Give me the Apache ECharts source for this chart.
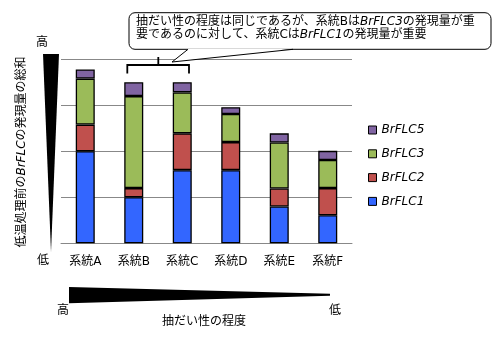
<!DOCTYPE html>
<html><head><meta charset="utf-8">
<script src="https://cdn.jsdelivr.net/npm/echarts@6/dist/echarts.min.js"></script>
<style>html,body{margin:0;padding:0;background:#fff;}#c{width:500px;height:346px;}</style>
</head><body><div id="c"></div>
<script>
var categories = ['系統A','系統B','系統C','系統D','系統E','系統F'];
var flc1 = [2.0, 1.0, 1.59, 1.59, 0.8, 0.61];
var flc2 = [0.58, 0.2, 0.8, 0.61, 0.39, 0.59];
var flc3 = [1.0, 2.0, 0.89, 0.61, 1.0, 0.61];
var flc5 = [0.2, 0.3, 0.22, 0.15, 0.2, 0.2];
var seriesNames = ['BrFLC1','BrFLC2','BrFLC3','BrFLC5'];
var legendOrder = ['BrFLC5','BrFLC3','BrFLC2','BrFLC1'];
var colors = ['#3366ff','#c0504d','#9bbb59','#8064a2'];
var FONT = "'DejaVu Sans','Noto Sans CJK JP',sans-serif";

var chart = echarts.init(document.getElementById('c'), null, {renderer:'canvas'});
var values = [flc1, flc2, flc3, flc5];
var series = seriesNames.map(function(n, i){
  return {
    name: n, type: 'bar', stack: 'total', barWidth: 19,
    data: values[i],
    itemStyle: {color: colors[i], borderColor: '#000', borderWidth: 1.3}
  };
});

var rich = {
  n: {fontFamily: FONT, fontSize: 12, fill: '#000'},
  i: {fontFamily: FONT, fontSize: 12, fill: '#000', fontStyle: 'italic'}
};
function t(x, y, s){
  return {type: 'text', z: 100, x: x, y: y, style: {text: s, fontFamily: FONT, fontSize: 12, fill: '#000', align: 'center', verticalAlign: 'middle'}};
}

chart.setOption({
  animation: false,
  textStyle: {fontFamily: FONT},
  grid: {left: 61, right: 148, top: 59.3, bottom: 102.7},
  legend: {
    data: legendOrder, orient: 'vertical', left: 363, top: 119, icon: 'rect',
    itemWidth: 8, itemHeight: 8, itemGap: 11.8,
    textStyle: {fontFamily: FONT, fontSize: 12, fontStyle: 'italic', color: '#000'},
    itemStyle: {borderColor: '#000', borderWidth: 1}
  },
  xAxis: {
    type: 'category', data: categories,
    axisLine: {lineStyle: {color: '#888', width: 1}},
    axisTick: {lineStyle: {color: '#888'}, length: 4},
    axisLabel: {color: '#000', fontSize: 12, fontFamily: FONT, margin: 13}
  },
  yAxis: {
    type: 'value', min: 0, max: 4, interval: 1,
    axisLine: {show: false}, axisTick: {show: false}, axisLabel: {show: false},
    splitLine: {lineStyle: {color: '#888', width: 1}}
  },
  series: series,
  graphic: [
    {type: 'polygon', z: 100, shape: {points: [[43,54],[59,54],[51,252]]}, style: {fill: '#000'}},
    t(42, 43, '高'),
    t(43, 261, '低'),
    {type: 'text', z: 100, x: 22, y: 152, rotation: Math.PI/2,
      style: {text: '{n|低温処理前の}{i|BrFLC}{n|の発現量の総和}', rich: rich, align: 'center', verticalAlign: 'middle'}},
    {type: 'polygon', z: 100, shape: {points: [[69,287],[330,293.8],[330,295.8],[69,303.3]]}, style: {fill: '#000'}},
    t(63, 311, '高'),
    t(335, 311, '低'),
    t(204, 322, '抽だい性の程度'),
    // brace
    {type: 'polyline', z: 100, shape: {points: [[127.3,73.5],[127.3,65],[189,65],[189,73.5]]},
      style: {stroke: '#000', lineWidth: 1.8, fill: null}},
    {type: 'line', z: 100, shape: {x1: 158.3, y1: 57, x2: 158.3, y2: 65}, style: {stroke: '#000', lineWidth: 1.8}},
    // callout
    {type: 'rect', z: 100, shape: {x: 129, y: 12.7, width: 362, height: 36.6, r: 6},
      style: {stroke: '#000', lineWidth: 1, fill: '#fff'}},
    {type: 'polygon', z: 101, shape: {points: [[188.5,48.8],[172,62],[292.5,48.8]]}, style: {fill: '#fff'}},
    {type: 'polyline', z: 102, shape: {points: [[188,49.3],[172,62],[293,49.3]]}, style: {stroke: '#000', lineWidth: 1, fill: null}},
    {type: 'text', z: 103, x: 136, y: 15.5,
      style: {text: '{n|抽だい性の程度は同じであるが、系統Bは}{i|BrFLC3}{n|の発現量が重}\n{n|要であるのに対して、系統Cは}{i|BrFLC1}{n|の発現量が重要}',
        rich: {n: {fontFamily: FONT, fontSize: 12, fill: '#000', lineHeight: 12.6}, i: {fontFamily: FONT, fontSize: 12, fill: '#000', fontStyle: 'italic', lineHeight: 12.6}},
        align: 'left', verticalAlign: 'top'}}
  ]
});
</script></body></html>
